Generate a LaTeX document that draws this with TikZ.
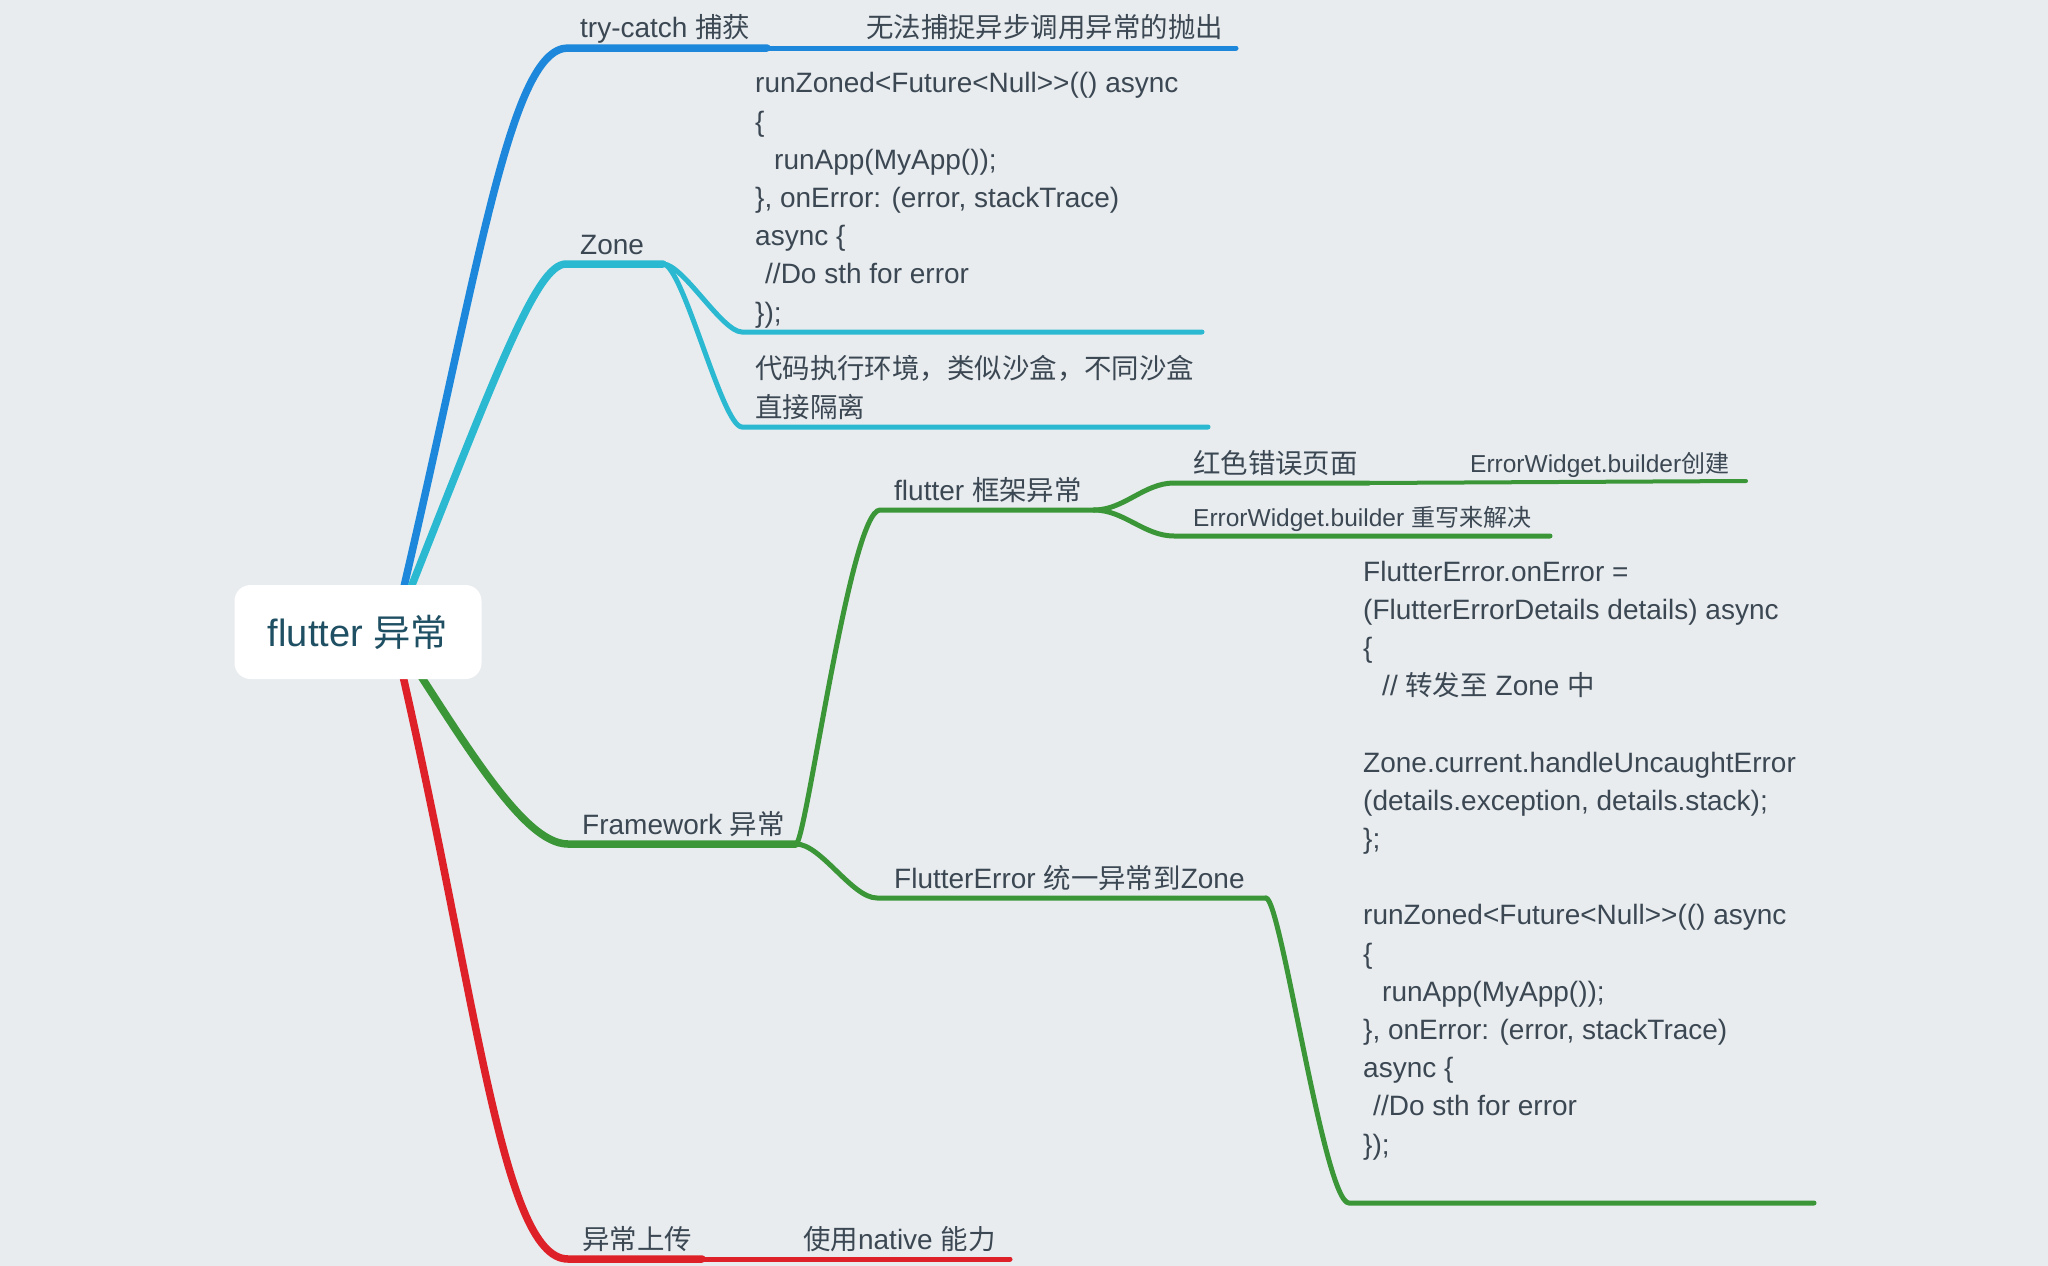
\documentclass[tikz,border=0pt]{standalone}
\usepackage{fontspec}
\setmainfont{Liberation Sans}[Ligatures=TeXOff]
\newfontfamily\cjk{Noto Sans CJK SC}[Scale=0.98]
\newcommand{\zh}[1]{{\cjk #1}}
\definecolor{bgcol}{HTML}{E8ECEF}
\definecolor{ink}{HTML}{3B4752}
\definecolor{rootink}{HTML}{1F4F63}
\definecolor{cblue}{HTML}{1C87DB}
\definecolor{ccyan}{HTML}{2BB9D1}
\definecolor{cgreen}{HTML}{3B9638}
\definecolor{cred}{HTML}{DE2128}

\begin{document}
\begin{tikzpicture}[x=1pt,y=-1pt,
  topic/.style={anchor=base west,inner sep=0pt,text=ink,font=\fontsize{28}{38.2}\selectfont},
  smalltopic/.style={topic,font=\fontsize{24.5}{34}\selectfont},
  codetext/.style={topic,align=left},
  trunk/.style={line width=7.5pt,line cap=round},
  twig/.style={line width=5pt,line cap=round},
  tail/.style={line width=4pt,line cap=round}]

  \useasboundingbox (0,0) rectangle (2048,1266);
  \fill[bgcol] (0,0) rectangle (2048,1266);

  \coordinate (hub) at (393,633);
  % underline end points
  \coordinate (tc-a) at (568,48);   \coordinate (tc-b) at (767,48);   \coordinate (tc-c) at (1236,48);
  \coordinate (zn-a) at (566,264);  \coordinate (zn-b) at (663,264);
  \coordinate (zc1-a) at (742,332); \coordinate (zc1-b) at (1202,332);
  \coordinate (zc2-a) at (742,427); \coordinate (zc2-b) at (1208,427);
  \coordinate (fw-a) at (568,844);  \coordinate (fw-b) at (796,844);
  \coordinate (fl-a) at (880,510);  \coordinate (fl-b) at (1094,510);
  \coordinate (rp-a) at (1174,483); \coordinate (rp-b) at (1369,483); \coordinate (rp-c) at (1746,481);
  \coordinate (ew-a) at (1174,536); \coordinate (ew-b) at (1550,536);
  \coordinate (fe-a) at (877,898);  \coordinate (fe-b) at (1266,898);
  \coordinate (fc-a) at (1349,1203); \coordinate (fc-b) at (1814,1203);
  \coordinate (up-a) at (568,1259); \coordinate (up-b) at (702,1259); \coordinate (up-c) at (1010,1259);

  % branches from the root
  \draw[trunk,cblue] (hub) .. controls +(84,-350) and +(-60,0) .. (tc-a) -- (tc-b);
  \draw[twig,cblue] (tc-b) -- (tc-c);
  \draw[trunk,ccyan] (hub) .. controls +(103,-260) and +(-30,0) .. (zn-a) -- (zn-b);
  \draw[trunk,cgreen] (hub) .. controls +(72,110) and +(-45,0) .. (fw-a) -- (fw-b);
  \draw[trunk,cred] (hub) .. controls +(83,350) and +(-68,0) .. (up-a) -- (up-b);
  \draw[twig,cred] (up-b) -- (up-c);

  \draw[twig,ccyan] (zn-b) .. controls +(20,0) and +(-20,0) .. (zc1-a) -- (zc1-b);
  \draw[twig,ccyan] (zn-b) .. controls +(20,0) and +(-20,0) .. (zc2-a) -- (zc2-b);

  \draw[twig,cgreen] (fw-b) .. controls +(10,0) and +(-30,0) .. (fl-a) -- (fl-b);
  \draw[twig,cgreen] (fw-b) .. controls +(25,0) and +(-25,0) .. (fe-a) -- (fe-b);
  \draw[twig,cgreen] (fl-b) .. controls +(30,0) and +(-30,0) .. (rp-a) -- (rp-b);
  \draw[tail,cgreen] (rp-b) -- (rp-c);
  \draw[twig,cgreen] (fl-b) .. controls +(30,0) and +(-30,0) .. (ew-a) -- (ew-b);
  \draw[twig,cgreen] (fe-b) .. controls +(15,0) and +(-25,0) .. (fc-a) -- (fc-b);

  \node[rectangle,rounded corners=16pt,fill=white,minimum width=247pt,minimum height=94pt,
        text=rootink,font=\fontsize{38}{42}\selectfont] (root) at (358,632) {flutter \zh{异常}};

  \node[topic] (trycatch) at (580,37) {try-catch \zh{捕获}};
  \node[topic] (tcnote) at (866,37) {\zh{无法捕捉异步调用异常的抛出}};

  \node[topic] (zone) at (580,254) {Zone};
  % multi-line texts sit on their last line
  \node[codetext] (zonecode) at (755,322) {runZoned<Future<Null>>(() async\\
    \{\\
    \hspace*{19pt}runApp(MyApp());\\
    \}, onError: (error, stackTrace)\\
    async \{\\
    \hspace*{10pt}//Do sth for error\\
    \});};
  \node[codetext] (zonenote) at (755,417) {\zh{代码执行环境，类似沙盒，不同沙盒}\\
    \zh{直接隔离}};

  \node[topic] (framework) at (582,834) {Framework \zh{异常}};
  \node[topic] (fwflutter) at (894,500) {flutter \zh{框架异常}};
  \node[topic] (redpage) at (1193,473) {\zh{红色错误页面}};
  \node[smalltopic] (redhow) at (1470,472) {ErrorWidget.builder\zh{创建}};
  \node[smalltopic] (rewrite) at (1193,526) {ErrorWidget.builder \zh{重写来解决}};
  \node[topic] (fwerror) at (894,888) {FlutterError \zh{统一异常到}Zone};
  \node[codetext] (fecode) at (1363,1154) {FlutterError.onError =\\
    (FlutterErrorDetails details) async\\
    \{\\
    \hspace*{19pt}// \zh{转发至} Zone \zh{中}\\
    \mbox{}\\
    Zone.current.handleUncaughtError\\
    (details.exception, details.stack);\\
    \};\\
    \mbox{}\\
    runZoned<Future<Null>>(() async\\
    \{\\
    \hspace*{19pt}runApp(MyApp());\\
    \}, onError: (error, stackTrace)\\
    async \{\\
    \hspace*{10pt}//Do sth for error\\
    \});};

  \node[topic] (upload) at (582,1249) {\zh{异常上传}};
  \node[topic] (native) at (803,1249) {\zh{使用}native \zh{能力}};
\end{tikzpicture}
\end{document}
